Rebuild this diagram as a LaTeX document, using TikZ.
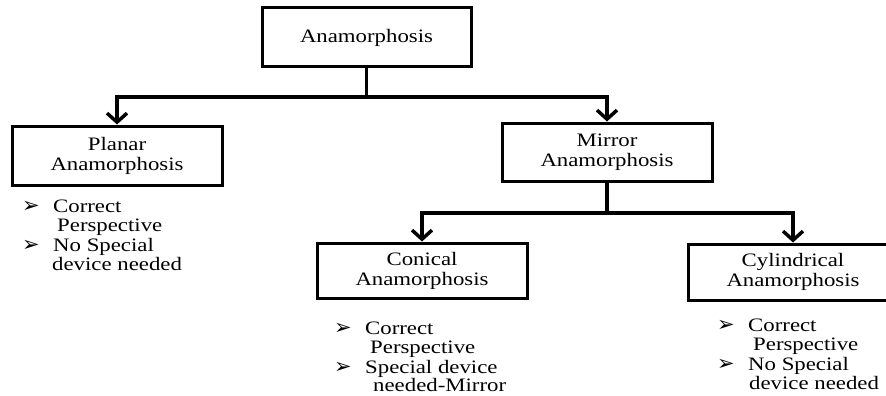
\documentclass[tikz,border=0pt]{standalone}
\usepackage{fontspec}
\setmainfont{Liberation Serif}[FakeStretch=1.2]
\newfontfamily\symfont{DejaVu Sans}
\usetikzlibrary{arrows.meta}
\begin{document}
\begin{tikzpicture}[x=1pt,y=-1pt,
  box/.style={draw=black,line width=3pt,fill=white,minimum width=210pt,minimum height=57pt,
    align=center,font=\fontsize{19}{20}\selectfont,inner sep=0pt},
  conn/.style={line width=3.5pt,line join=miter},
  arr/.style={conn,-{Straight Barb[length=9pt,width=20pt,line width=3.5pt]}},
  item/.style={anchor=base west,inner sep=0pt,font=\fontsize{19}{20}\selectfont},
  bul/.style={anchor=base west,inner sep=0pt,font=\symfont\fontsize{21}{21}\selectfont}]
\useasboundingbox (0,0) rectangle (886,396);
\fill[white] (0,0) rectangle (886,396);
\begin{scope}
\clip (0,0) rectangle (886,396);
\node[box,minimum width=209pt,minimum height=59pt] (A) at (366.5,37.5) {Anamorphosis};
\node[box,minimum height=59pt] (P) at (117,155.5) {Planar\\Anamorphosis};
\node[box,minimum height=58pt] (M) at (607,152) {Mirror\\Anamorphosis};
\node[box,minimum height=55pt] (C) at (422,270.5) {Conical\\Anamorphosis};
\node[box,minimum height=56pt] (Y) at (793,272) {Cylindrical\\Anamorphosis};
\end{scope}
\coordinate (j1) at (366.5,97);
\coordinate (j2) at (607,213);
\draw[conn] (A.south) -- (j1);
\draw[arr] (j1) -| (P.north);
\draw[arr] (j1) -| (M.north);
\draw[conn] (M.south) -- (j2);
\draw[arr] (j2) -| (C.north);
\draw[arr] (j2) -| (Y.north);
% Planar list
\node[bul] (pb1) at (22,212) {➢};
\node[item] (pt1) at (53,212) {Correct};
\node[item] (pt2) at (57,231) {Perspective};
\node[bul] (pb2) at (22,251) {➢};
\node[item] (pt3) at (53,251) {No Special};
\node[item] (pt4) at (52,270) {device needed};
% Conical list
\node[bul] (cb1) at (334,334) {➢};
\node[item] (ct1) at (365,334) {Correct};
\node[item] (ct2) at (370,353) {Perspective};
\node[bul] (cb2) at (334,373) {➢};
\node[item] (ct3) at (365,373) {Special device};
\node[item] (ct4) at (373,391) {needed-Mirror};
% Cylindrical list
\node[bul] (yb1) at (717,331) {➢};
\node[item] (yt1) at (748,331) {Correct};
\node[item] (yt2) at (753,350) {Perspective};
\node[bul] (yb2) at (717,370) {➢};
\node[item] (yt3) at (748,370) {No Special};
\node[item] (yt4) at (749,389) {device needed};
\end{tikzpicture}
\end{document}
